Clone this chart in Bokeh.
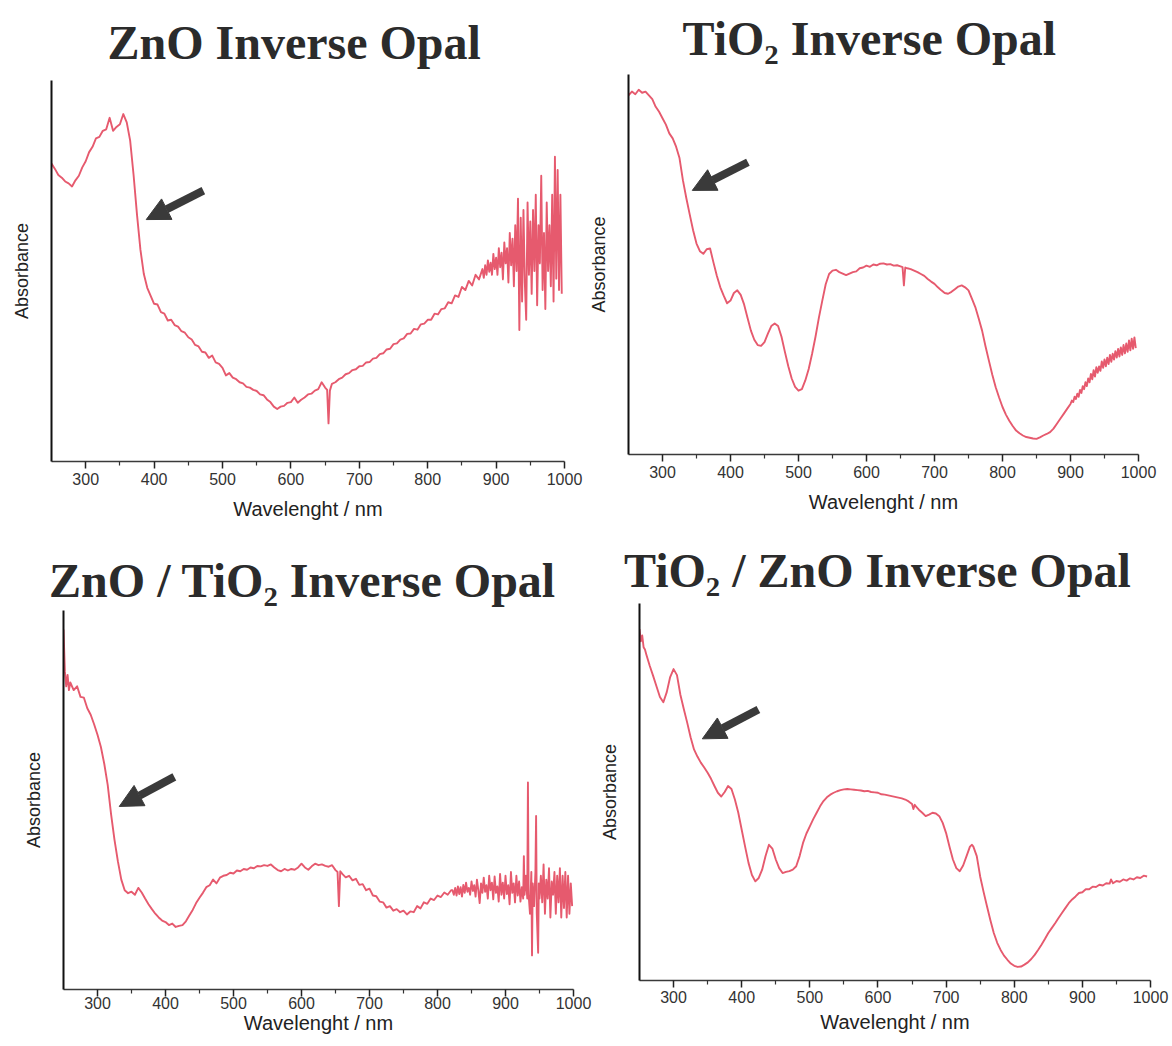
from bokeh.plotting import figure
from bokeh.layouts import row, column
from bokeh.models import Range1d, FixedTicker, Arrow, NormalHead, Title
from bokeh.embed import file_html
from bokeh.resources import INLINE

# ------------------------------------------------------------------
# Data: wavelength (nm) and absorbance (a.u., 0 = x axis, 1 = axis top)
# ------------------------------------------------------------------
major_ticks = [300, 400, 500, 600, 700, 800, 900, 1000]
minor_ticks = [350, 450, 550, 650, 750, 850, 950]

# ZnO inverse opal
zno_wl = (list(range(250, 655, 5)) + [653, 655, 657]
          + list(range(660, 885, 5)) + list(range(882, 998, 2)))
zno_abs = [
    0.782, 0.768, 0.752, 0.745, 0.735, 0.73, 0.722, 0.738, 0.75, 0.772,
    0.788, 0.812, 0.826, 0.848, 0.852, 0.868, 0.872, 0.902, 0.868, 0.878,
    0.885, 0.912, 0.89, 0.842, 0.752, 0.648, 0.556, 0.492, 0.456, 0.435,
    0.414, 0.412, 0.392, 0.388, 0.37, 0.372, 0.358, 0.354, 0.342, 0.338,
    0.326, 0.32, 0.306, 0.302, 0.288, 0.286, 0.272, 0.278, 0.26, 0.256,
    0.246, 0.226, 0.232, 0.22, 0.216, 0.208, 0.205, 0.196, 0.194, 0.188,
    0.185, 0.176, 0.174, 0.163, 0.156, 0.144, 0.138, 0.144, 0.146, 0.154,
    0.156, 0.168, 0.154, 0.162, 0.168, 0.176, 0.178, 0.186, 0.19, 0.208,
    0.194,
    0.188, 0.1, 0.186,
    0.204, 0.208, 0.216, 0.22, 0.229, 0.232, 0.24, 0.242, 0.25, 0.251,
    0.26, 0.261, 0.27, 0.272, 0.282, 0.284, 0.294, 0.296, 0.308, 0.31,
    0.32, 0.323, 0.335, 0.336, 0.348, 0.346, 0.36, 0.362, 0.372, 0.372,
    0.388, 0.386, 0.4, 0.402, 0.418, 0.415, 0.436, 0.432, 0.458, 0.45,
    0.474, 0.462, 0.49, 0.478, 0.505,
    0.482, 0.515, 0.49, 0.528, 0.498, 0.522, 0.49, 0.545, 0.505, 0.535,
    0.49, 0.56, 0.51, 0.548, 0.478, 0.575, 0.52, 0.56, 0.47, 0.6,
    0.515, 0.585, 0.46, 0.62, 0.5, 0.69, 0.345, 0.64, 0.42, 0.66,
    0.47, 0.372, 0.68, 0.49, 0.63, 0.44, 0.66, 0.5, 0.7, 0.41,
    0.62, 0.52, 0.75, 0.45, 0.6, 0.4, 0.68, 0.5, 0.62, 0.46,
    0.7, 0.42, 0.8, 0.48, 0.765, 0.45, 0.7, 0.44,
]

# TiO2 inverse opal
tio2_wl = (list(range(250, 655, 5)) + [653, 655, 657]
           + list(range(660, 905, 5)) + list(range(902, 998, 2)))
tio2_abs = [
    0.945, 0.955, 0.948, 0.96, 0.952, 0.955, 0.945, 0.935, 0.915, 0.902,
    0.885, 0.868, 0.845, 0.832, 0.81, 0.78, 0.722, 0.675, 0.632, 0.59,
    0.555, 0.535, 0.528, 0.54, 0.542, 0.505, 0.47, 0.44, 0.418, 0.398,
    0.405, 0.425, 0.432, 0.42, 0.395, 0.36, 0.326, 0.302, 0.288, 0.286,
    0.296, 0.318, 0.338, 0.345, 0.338, 0.31, 0.27, 0.232, 0.2, 0.178,
    0.168, 0.172, 0.195, 0.225, 0.265, 0.31, 0.36, 0.405, 0.448, 0.475,
    0.484, 0.486, 0.48, 0.476, 0.472, 0.476, 0.48, 0.482, 0.49, 0.492,
    0.497, 0.494, 0.5, 0.498, 0.502, 0.503, 0.5, 0.501, 0.497, 0.498,
    0.495,
    0.493, 0.445, 0.492,
    0.49, 0.488, 0.484, 0.48, 0.475, 0.47, 0.462, 0.455, 0.449, 0.44,
    0.432, 0.425, 0.423, 0.428, 0.435, 0.442, 0.445, 0.44, 0.432, 0.41,
    0.388, 0.358, 0.326, 0.285, 0.247, 0.21, 0.177, 0.15, 0.125, 0.105,
    0.089, 0.075, 0.063, 0.056, 0.05, 0.046, 0.044, 0.042, 0.041, 0.045,
    0.05, 0.054, 0.059, 0.068, 0.081, 0.094, 0.107, 0.12, 0.133,
    0.142, 0.138, 0.152, 0.146, 0.16, 0.152, 0.17, 0.162, 0.18, 0.172,
    0.19, 0.18, 0.2, 0.19, 0.212, 0.198, 0.222, 0.205, 0.23, 0.215,
    0.232, 0.22, 0.245, 0.228, 0.25, 0.232, 0.255, 0.238, 0.262, 0.244,
    0.265, 0.25, 0.272, 0.255, 0.278, 0.258, 0.282, 0.262, 0.288, 0.266,
    0.292, 0.27, 0.3, 0.274, 0.305, 0.278, 0.308, 0.28,
]

# ZnO / TiO2 inverse opal
zt_wl = ([250, 252, 254, 256, 258, 260] + list(range(265, 655, 5))
         + [653, 655, 657] + list(range(660, 825, 5)) + list(range(822, 922, 2))
         + [922, 924, 926, 927, 928, 930, 932, 933, 934, 936, 938, 939, 940,
            942, 944, 945, 946, 948, 949]
         + list(range(950, 1000, 2)))
zt_abs = [
    0.95, 0.84, 0.8, 0.83, 0.79, 0.81,
    0.79, 0.8, 0.772, 0.77, 0.742, 0.725, 0.7, 0.672, 0.64, 0.595,
    0.54, 0.462, 0.395, 0.338, 0.29, 0.262, 0.254, 0.258, 0.25, 0.268,
    0.256, 0.24, 0.225, 0.212, 0.2, 0.19, 0.182, 0.178, 0.17, 0.174,
    0.165, 0.168, 0.17, 0.18, 0.195, 0.21, 0.228, 0.242, 0.255, 0.27,
    0.275, 0.29, 0.28, 0.295, 0.3, 0.302, 0.308, 0.306, 0.314, 0.312,
    0.318, 0.316, 0.322, 0.32, 0.326, 0.325, 0.328, 0.326, 0.33, 0.322,
    0.315, 0.312, 0.318, 0.314, 0.318, 0.316, 0.322, 0.332, 0.322, 0.316,
    0.325, 0.332, 0.328, 0.33, 0.326, 0.324, 0.328, 0.315,
    0.31, 0.22, 0.312,
    0.305, 0.296, 0.3, 0.288, 0.292, 0.276, 0.278, 0.262, 0.266, 0.248,
    0.246, 0.232, 0.23, 0.216, 0.22, 0.208, 0.212, 0.204, 0.208, 0.198,
    0.206, 0.204, 0.22, 0.214, 0.23, 0.226, 0.24, 0.236, 0.248, 0.244,
    0.256, 0.25, 0.262,
    0.262, 0.25, 0.268, 0.248, 0.272, 0.252, 0.27, 0.245, 0.276, 0.255,
    0.282, 0.258, 0.268, 0.25, 0.285, 0.26, 0.275, 0.245, 0.29, 0.262,
    0.228, 0.28, 0.255, 0.295, 0.258, 0.275, 0.24, 0.3, 0.262, 0.282,
    0.238, 0.298, 0.255, 0.272, 0.232, 0.305, 0.25, 0.282, 0.24, 0.3,
    0.252, 0.275, 0.225, 0.31, 0.255, 0.28, 0.23, 0.3, 0.248, 0.285,
    0.232, 0.27, 0.24, 0.352, 0.25, 0.3, 0.24, 0.546, 0.25, 0.2,
    0.31, 0.09, 0.28, 0.22, 0.31, 0.458, 0.2, 0.097, 0.28,
    0.24, 0.3, 0.23, 0.33, 0.2, 0.29, 0.24, 0.32, 0.19, 0.285,
    0.25, 0.31, 0.2, 0.3, 0.23, 0.32, 0.19, 0.3, 0.215, 0.31,
    0.19, 0.3, 0.2, 0.28, 0.22,
]

# TiO2 / ZnO inverse opal
tz_wl = ([250, 252, 254, 256, 258] + list(range(260, 655, 5)) + [652, 654]
         + list(range(655, 740, 5)) + [738] + list(range(740, 945, 5)) + [942]
         + list(range(945, 1000, 5)))
tz_abs = [
    0.932, 0.9, 0.915, 0.884, 0.878,
    0.865, 0.835, 0.808, 0.78, 0.752, 0.738, 0.765, 0.805, 0.826, 0.81,
    0.758, 0.72, 0.684, 0.645, 0.613, 0.594, 0.578, 0.565, 0.551, 0.535,
    0.516, 0.498, 0.488, 0.5, 0.516, 0.508, 0.48, 0.445, 0.4, 0.355,
    0.312, 0.28, 0.263, 0.272, 0.294, 0.33, 0.36, 0.35, 0.321, 0.298,
    0.285, 0.288, 0.29, 0.294, 0.303, 0.33, 0.365, 0.39, 0.409, 0.428,
    0.445, 0.462, 0.476, 0.486, 0.493, 0.498, 0.502, 0.505, 0.507, 0.508,
    0.507, 0.506, 0.505, 0.504, 0.502, 0.503, 0.5, 0.499, 0.498, 0.494,
    0.493, 0.491, 0.489, 0.487, 0.485, 0.483, 0.48, 0.475, 0.468,
    0.455, 0.466,
    0.463, 0.453, 0.445, 0.436, 0.44, 0.445, 0.443, 0.436, 0.418, 0.391,
    0.355, 0.321, 0.298, 0.29, 0.305, 0.33, 0.355,
    0.36,
    0.355, 0.33, 0.276, 0.235, 0.197, 0.16, 0.126, 0.1, 0.081, 0.066,
    0.055, 0.045, 0.039, 0.036, 0.037, 0.042, 0.048, 0.057, 0.068, 0.081,
    0.095, 0.11, 0.126, 0.139, 0.152, 0.166, 0.179, 0.192, 0.205, 0.215,
    0.223, 0.232, 0.234, 0.242, 0.242, 0.249, 0.248, 0.254, 0.252, 0.258,
    0.257,
    0.268,
    0.258, 0.264, 0.262, 0.268, 0.265, 0.271, 0.268, 0.274, 0.272, 0.278, 0.276,
]

titles = ["ZnO Inverse Opal", "TiO\u2082 Inverse Opal",
          "ZnO / TiO\u2082 Inverse Opal", "TiO\u2082 / ZnO Inverse Opal"]

# arrows marking the absorption edge: (tail x, tail y, tip x, tip y)
arrows = [(472, 0.711, 388.5, 0.635),
          (425.6, 0.769, 343.8, 0.695),
          (413, 0.561, 332, 0.483),
          (424.5, 0.719, 342.2, 0.641)]

for xs, ys in [(zno_wl, zno_abs), (tio2_wl, tio2_abs), (zt_wl, zt_abs), (tz_wl, tz_abs)]:
    assert len(xs) == len(ys), (len(xs), len(ys))

# ------------------------------------------------------------------
# Layout / style
# ------------------------------------------------------------------
LINE = "#e65a6e"
INK = "#2b2b2b"

# (width, height, border left, right, top, bottom,
#  title offset, title standoff, tick label standoff, axis label standoff)
panel_cfg = [
    (584, 533, 51, 20, 80, 72, 56.0, 24, 4, 10),
    (587, 533, 44, 33, 74, 79, 54.0, 19, 4, 10),
    (595, 513, 63, 22, 77, 57, -14.4, 8, 0, 0),
    (576, 513, 44, 21, 70, 66, -15.5, 14, 3, 5),
]


def make_panel(xs, ys, title, arrow, cfg):
    w, h, bl, br, bt, bb, t_off, t_stand, ls, als = cfg
    p = figure(width=w, height=h, output_backend="svg", toolbar_location=None,
               x_range=Range1d(250, 1000), y_range=Range1d(0, 1),
               min_border_left=bl, min_border_right=br,
               min_border_top=bt, min_border_bottom=bb)
    p.frame_align = False
    p.title = Title(text=title, text_font="Liberation Serif",
                    text_font_style="bold", text_font_size="48px",
                    text_color=INK, align="left", offset=t_off,
                    standoff=t_stand, vertical_align="bottom")
    p.outline_line_color = None
    p.xgrid.visible = False
    p.ygrid.visible = False
    p.background_fill_color = "white"
    p.border_fill_color = "white"

    p.line(xs, ys, line_color=LINE, line_width=1.9, line_join="round")

    tail_x, tail_y, tip_x, tip_y = arrow
    p.add_layout(Arrow(x_start=tail_x, y_start=tail_y, x_end=tip_x, y_end=tip_y,
                       line_color="#3a3a3a", line_width=8,
                       end=NormalHead(size=23, fill_color="#3a3a3a",
                                      line_color="#3a3a3a")))

    xa = p.xaxis[0]
    xa.ticker = FixedTicker(ticks=major_ticks, minor_ticks=minor_ticks)
    xa.axis_label = "Wavelenght / nm"
    xa.axis_label_text_font = "Liberation Sans"
    xa.axis_label_text_font_size = "20px"
    xa.axis_label_text_font_style = "normal"
    xa.axis_label_text_color = "#222222"
    xa.axis_label_standoff = als
    xa.major_label_text_font = "Liberation Sans"
    xa.major_label_text_font_size = "16px"
    xa.major_label_text_color = "#333333"
    xa.major_label_standoff = ls
    xa.axis_line_color = "#3a3a3a"
    xa.axis_line_width = 1.5
    xa.major_tick_line_color = "#222222"
    xa.major_tick_line_width = 1.5
    xa.major_tick_in = 0
    xa.major_tick_out = 7
    xa.minor_tick_line_color = "#333333"
    xa.minor_tick_line_width = 1.2
    xa.minor_tick_in = 0
    xa.minor_tick_out = 4

    ya = p.yaxis[0]
    ya.ticker = FixedTicker(ticks=[], minor_ticks=[])
    ya.major_label_text_font_size = "0px"
    ya.major_label_standoff = 0
    ya.major_tick_in = 0
    ya.major_tick_out = 0
    ya.minor_tick_in = 0
    ya.minor_tick_out = 0
    ya.axis_label = "Absorbance"
    ya.axis_label_text_font = "Liberation Sans"
    ya.axis_label_text_font_size = "18px"
    ya.axis_label_text_font_style = "normal"
    ya.axis_label_text_color = "#222222"
    ya.axis_label_standoff = 20
    ya.axis_line_color = "#111111"
    ya.axis_line_width = 2
    return p


p1 = make_panel(zno_wl, zno_abs, titles[0], arrows[0], panel_cfg[0])
p2 = make_panel(tio2_wl, tio2_abs, titles[1], arrows[1], panel_cfg[1])
p3 = make_panel(zt_wl, zt_abs, titles[2], arrows[2], panel_cfg[2])
p4 = make_panel(tz_wl, tz_abs, titles[3], arrows[3], panel_cfg[3])

layout = column(row(p1, p2), row(p3, p4))

open("out.html", "w").write(file_html(layout, INLINE))
